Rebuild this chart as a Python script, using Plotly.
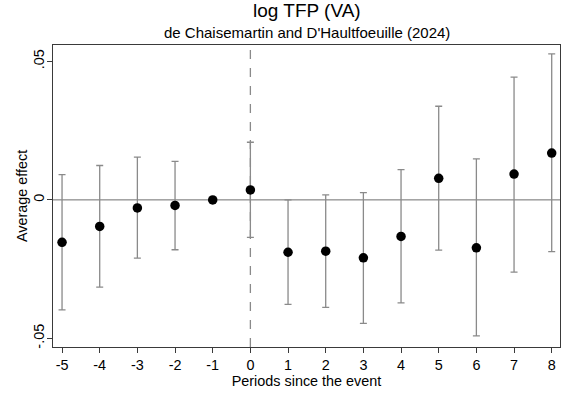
import plotly.graph_objects as go

# Event-study estimates: periods relative to the event, point estimates and 95% CI bounds
periods = [-5, -4, -3, -2, -1, 0, 1, 2, 3, 4, 5, 6, 7, 8]
effect = [-0.0153, -0.0096, -0.0029, -0.0020, 0.0, 0.0036, -0.0189, -0.0185, -0.0209,
          -0.0132, 0.0078, -0.0173, 0.0093, 0.0169]
ci_upper = [0.0091, 0.0124, 0.0154, 0.0139, 0.0, 0.0208, 0.0000, 0.0018, 0.0026,
            0.0109, 0.0338, 0.0148, 0.0443, 0.0527]
ci_lower = [-0.0397, -0.0315, -0.0210, -0.0180, 0.0, -0.0135, -0.0377, -0.0388, -0.0446,
            -0.0372, -0.0181, -0.0491, -0.0261, -0.0187]

y_ticks = [-0.05, 0, 0.05]
y_tick_labels = ["-.05", "0", ".05"]

title_text = "log TFP (VA)"
subtitle_text = "de Chaisemartin and D'Haultfoeuille (2024)"
x_title = "Periods since the event"
y_title = "Average effect"

err_plus = [u - e for u, e in zip(ci_upper, effect)]
err_minus = [e - l for e, l in zip(effect, ci_lower)]

font_family = "Liberation Sans, Arial, sans-serif"

fig = go.Figure()
fig.add_trace(go.Scatter(
    x=periods, y=effect, mode="markers",
    marker=dict(color="black", size=9.5),
    error_y=dict(type="data", symmetric=False, array=err_plus, arrayminus=err_minus,
                 color="#8a8a8a", thickness=1.3, width=3.5),
    showlegend=False,
))

# Zero reference line and event-time marker
fig.add_shape(type="line", xref="paper", x0=0, x1=1, yref="y", y0=0, y1=0,
              line=dict(color="#6e6e6e", width=1), layer="below")
fig.add_shape(type="line", xref="x", x0=0, x1=0, yref="paper", y0=0, y1=1,
              line=dict(color="#8a8a8a", width=1.3, dash="dash"), layer="below")

# Title and subtitle placed above the plot area
fig.add_annotation(text=title_text, xref="paper", yref="paper", x=0.5, y=1,
                   xanchor="center", yanchor="bottom", yshift=22, showarrow=False,
                   font=dict(size=19, family=font_family, color="black"))
fig.add_annotation(text=subtitle_text, xref="paper", yref="paper", x=0.5, y=1,
                   xanchor="center", yanchor="bottom", yshift=2, showarrow=False,
                   font=dict(size=15, family=font_family, color="black"))

# Vertical y-axis title
fig.add_annotation(text=y_title, xref="paper", yref="paper", x=0, y=0.5,
                   xanchor="center", yanchor="middle", xshift=-31, textangle=-90,
                   showarrow=False, font=dict(size=14.4, family=font_family, color="black"))

fig.update_layout(
    width=567, height=396,
    margin=dict(l=53, r=7, t=45, b=49),
    paper_bgcolor="white", plot_bgcolor="white",
    font=dict(family=font_family, color="black", size=14.4),
    xaxis=dict(
        range=[-5.24, 8.22], tickmode="array", tickvals=periods,
        ticktext=[str(p) for p in periods],
        showgrid=False, zeroline=False,
        showline=True, mirror=True, linecolor="#3a3a3a", linewidth=1.2,
        ticks="outside", ticklen=5, tickcolor="#3a3a3a",
        title=dict(text=x_title, standoff=1, font=dict(size=14.4)),
        tickfont=dict(size=14.4),
    ),
    yaxis=dict(
        range=[-0.0531, 0.0559], tickmode="array", tickvals=y_ticks, ticktext=y_tick_labels,
        tickangle=-90, ticklabelstandoff=-3,
        showgrid=False, zeroline=False,
        showline=True, mirror=True, linecolor="#3a3a3a", linewidth=1.2,
        ticks="outside", ticklen=5, tickcolor="#3a3a3a",
        tickfont=dict(size=14.4),
    ),
)

fig.write_html("out.html")
